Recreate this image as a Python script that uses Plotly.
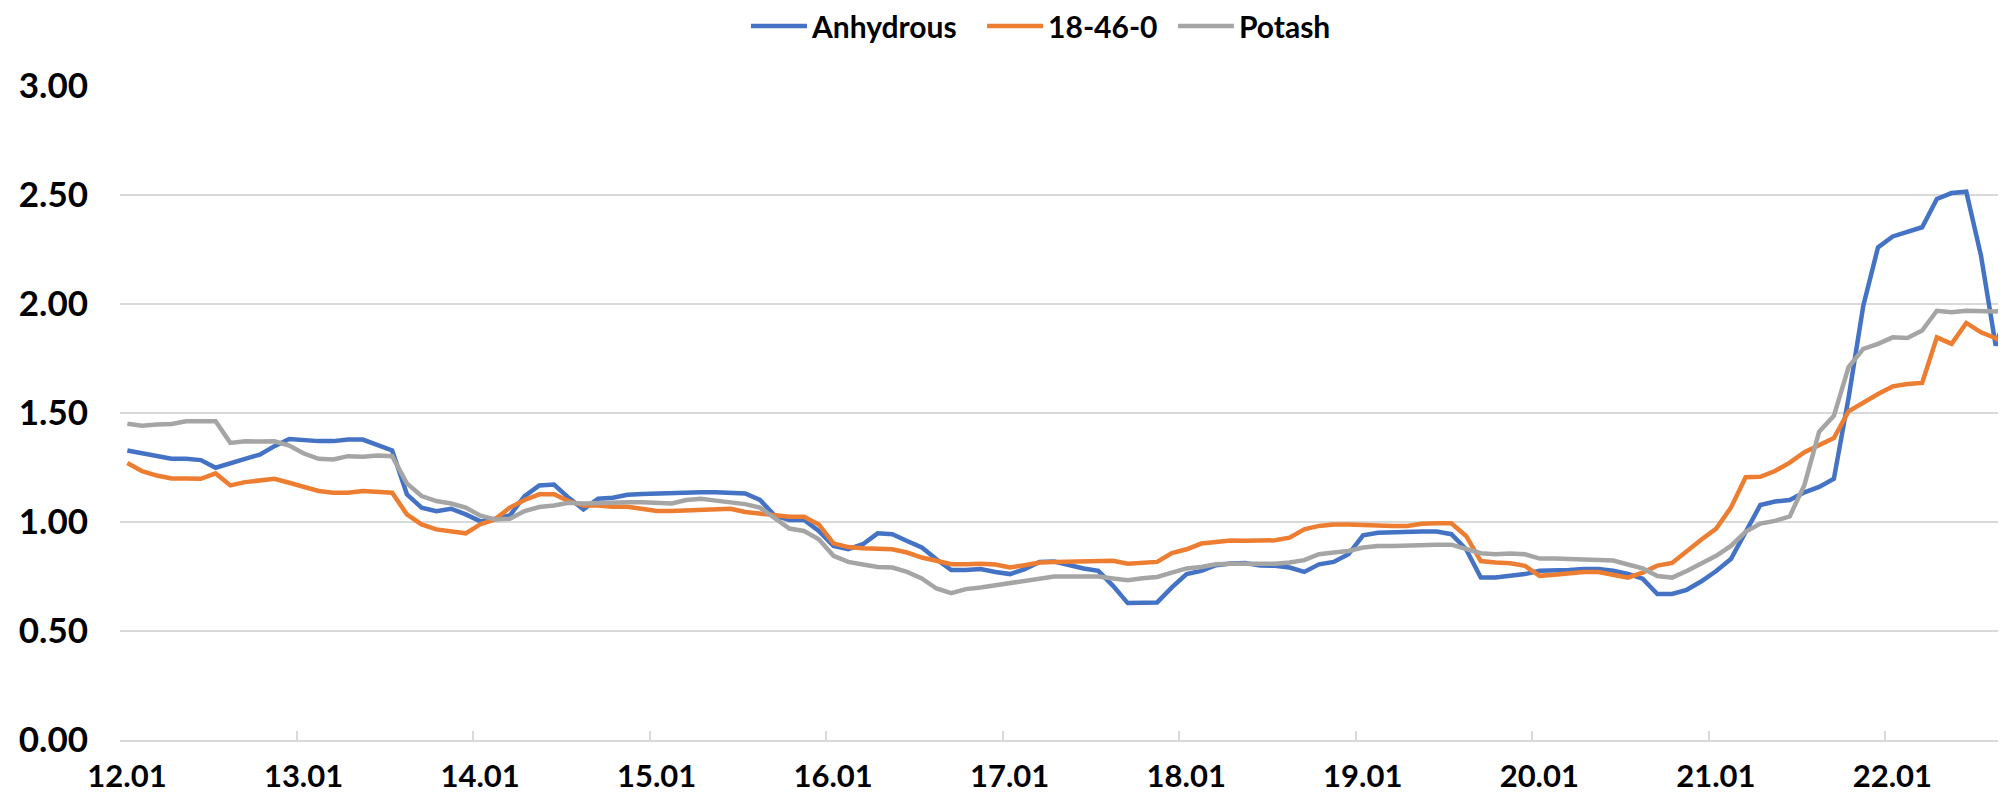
import plotly.graph_objects as go

# Monthly index (0 = 12.01 ... 128 = 22.09)
tick_labels = ["12.01", "13.01", "14.01", "15.01", "16.01", "17.01",
               "18.01", "19.01", "20.01", "21.01", "22.01"]

anhydrous = [
    1.328, 1.314, 1.299, 1.290, 1.290, 1.284, 1.249, 1.271, 1.290, 1.309, 1.348, 1.381,
    1.374, 1.371, 1.371, 1.378, 1.378, 1.355, 1.328, 1.127, 1.066, 1.050, 1.061, 1.035,
    1.003, 1.015, 1.030, 1.119, 1.168, 1.172, 1.111, 1.058, 1.107, 1.111, 1.125, 1.128,
    1.131, 1.134, 1.137, 1.137, 1.137, 1.134, 1.131, 1.101, 1.030, 1.009, 1.009, 0.959,
    0.890, 0.875, 0.898, 0.948, 0.944, 0.913, 0.883, 0.829, 0.780, 0.780, 0.784, 0.771,
    0.761, 0.784, 0.817, 0.819, 0.802, 0.787, 0.776, 0.707, 0.628, 0.628, 0.631, 0.700,
    0.761, 0.776, 0.802, 0.810, 0.812, 0.800, 0.799, 0.791, 0.771, 0.806, 0.817, 0.852,
    0.939, 0.951, 0.954, 0.956, 0.956, 0.956, 0.944, 0.875, 0.745, 0.745, 0.753, 0.761,
    0.776, 0.776, 0.780, 0.784, 0.784, 0.776, 0.762, 0.740, 0.670, 0.670, 0.689, 0.728,
    0.775, 0.830, 0.952, 1.078, 1.094, 1.101, 1.136, 1.161, 1.198, 1.570, 1.992, 2.260,
    2.310, 2.329, 2.352, 2.482, 2.509, 2.515, 2.222, 1.809, 2.010,
]

dap_18_46_0 = [
    1.271, 1.233, 1.213, 1.200, 1.200, 1.198, 1.223, 1.168, 1.183, 1.191, 1.198, 1.180,
    1.160, 1.142, 1.134, 1.134, 1.142, 1.139, 1.134, 1.035, 0.989, 0.966, 0.959, 0.948,
    0.990, 1.012, 1.066, 1.101, 1.127, 1.127, 1.096, 1.076, 1.076, 1.070, 1.070, 1.058,
    1.050, 1.050, 1.053, 1.058, 1.058, 1.061, 1.046, 1.040, 1.035, 1.024, 1.024, 0.989,
    0.902, 0.885, 0.880, 0.878, 0.875, 0.860, 0.837, 0.822, 0.806, 0.806, 0.809, 0.805,
    0.791, 0.802, 0.814, 0.817, 0.817, 0.819, 0.822, 0.822, 0.809, 0.814, 0.817, 0.857,
    0.875, 0.901, 0.909, 0.915, 0.914, 0.915, 0.916, 0.928, 0.966, 0.982, 0.989, 0.989,
    0.985, 0.985, 0.982, 0.982, 0.992, 0.994, 0.994, 0.936, 0.821, 0.814, 0.811, 0.799,
    0.753, 0.758, 0.765, 0.771, 0.771, 0.758, 0.745, 0.768, 0.800, 0.812, 0.868, 0.920,
    0.970, 1.066, 1.205, 1.207, 1.234, 1.272, 1.320, 1.352, 1.385, 1.508, 1.549, 1.587,
    1.622, 1.633, 1.638, 1.847, 1.817, 1.913, 1.870, 1.843, 1.800,
]

potash = [
    1.451, 1.442, 1.447, 1.450, 1.462, 1.462, 1.462, 1.363, 1.370, 1.369, 1.370, 1.351,
    1.314, 1.290, 1.287, 1.302, 1.299, 1.305, 1.302, 1.177, 1.119, 1.096, 1.085, 1.066,
    1.029, 1.012, 1.015, 1.050, 1.069, 1.076, 1.088, 1.085, 1.088, 1.091, 1.091, 1.091,
    1.088, 1.085, 1.101, 1.107, 1.098, 1.088, 1.082, 1.066, 1.020, 0.970, 0.959, 0.921,
    0.845, 0.817, 0.805, 0.794, 0.791, 0.771, 0.741, 0.695, 0.674, 0.692, 0.700, 0.710,
    0.720, 0.732, 0.742, 0.750, 0.750, 0.750, 0.750, 0.741, 0.733, 0.742, 0.748, 0.768,
    0.787, 0.794, 0.806, 0.809, 0.811, 0.809, 0.809, 0.814, 0.825, 0.852, 0.860, 0.867,
    0.883, 0.890, 0.890, 0.893, 0.895, 0.896, 0.896, 0.878, 0.857, 0.852, 0.855, 0.852,
    0.832, 0.832, 0.829, 0.829, 0.828, 0.823, 0.805, 0.787, 0.752, 0.745, 0.775, 0.810,
    0.845, 0.890, 0.955, 0.993, 1.005, 1.026, 1.170, 1.414, 1.487, 1.711, 1.794, 1.817,
    1.847, 1.844, 1.878, 1.969, 1.962, 1.969, 1.966, 1.966, 1.977,
]

x = list(range(len(anhydrous)))

series = [
    ("Anhydrous", anhydrous, "#4472C4", "legend", 0.3319),
    ("18-46-0", dap_18_46_0, "#ED7D31", "legend2", 0.4571),
    ("Potash", potash, "#A5A5A5", "legend3", 0.5583),
]

fig = go.Figure()
legend_font = dict(family="Lato", size=30, weight="bold", color="black")
for name, vals, color, leg, lx in series:
    fig.add_trace(go.Scatter(
        x=x, y=vals, name=name, mode="lines",
        line=dict(color=color, width=4.5), legend=leg,
    ))
    fig.update_layout({leg: dict(
        orientation="h", x=lx, xanchor="left", y=1.0917, yanchor="middle",
        font=legend_font, bgcolor="rgba(0,0,0,0)", itemwidth=56,
    )})

tick_positions = [12 * k - 0.5 for k in range(len(tick_labels))]

# the page body has an 8px default margin; margins below compensate for it
fig.update_layout(
    width=2006, height=796,
    margin=dict(l=112, r=8, t=78, b=64, autoexpand=False),
    paper_bgcolor="white", plot_bgcolor="white",
    font=dict(family="Lato", color="black"),
    showlegend=True,
    xaxis=dict(
        range=[-0.5, 127.7],
        tickmode="array", tickvals=tick_positions, ticktext=tick_labels,
        ticks="inside", ticklen=9, tickwidth=1.5, tickcolor="#D9D9D9",
        ticklabelshift=7, ticklabelstandoff=8,
        showline=True, linecolor="#D9D9D9", linewidth=1.5,
        showgrid=False, zeroline=False,
        tickfont=dict(family="Lato", size=31, weight="bold", color="black"),
        automargin=False,
    ),
    yaxis=dict(
        range=[0, 3.0], tickmode="linear", tick0=0, dtick=0.5, tickformat=".2f",
        showgrid=True, gridcolor="#D9D9D9", gridwidth=1.5,
        zeroline=False, ticks="", ticklabelstandoff=31,
        tickfont=dict(family="Lato", size=35, weight="bold", color="black"),
        automargin=False,
    ),
)

fig.write_html("out.html")
